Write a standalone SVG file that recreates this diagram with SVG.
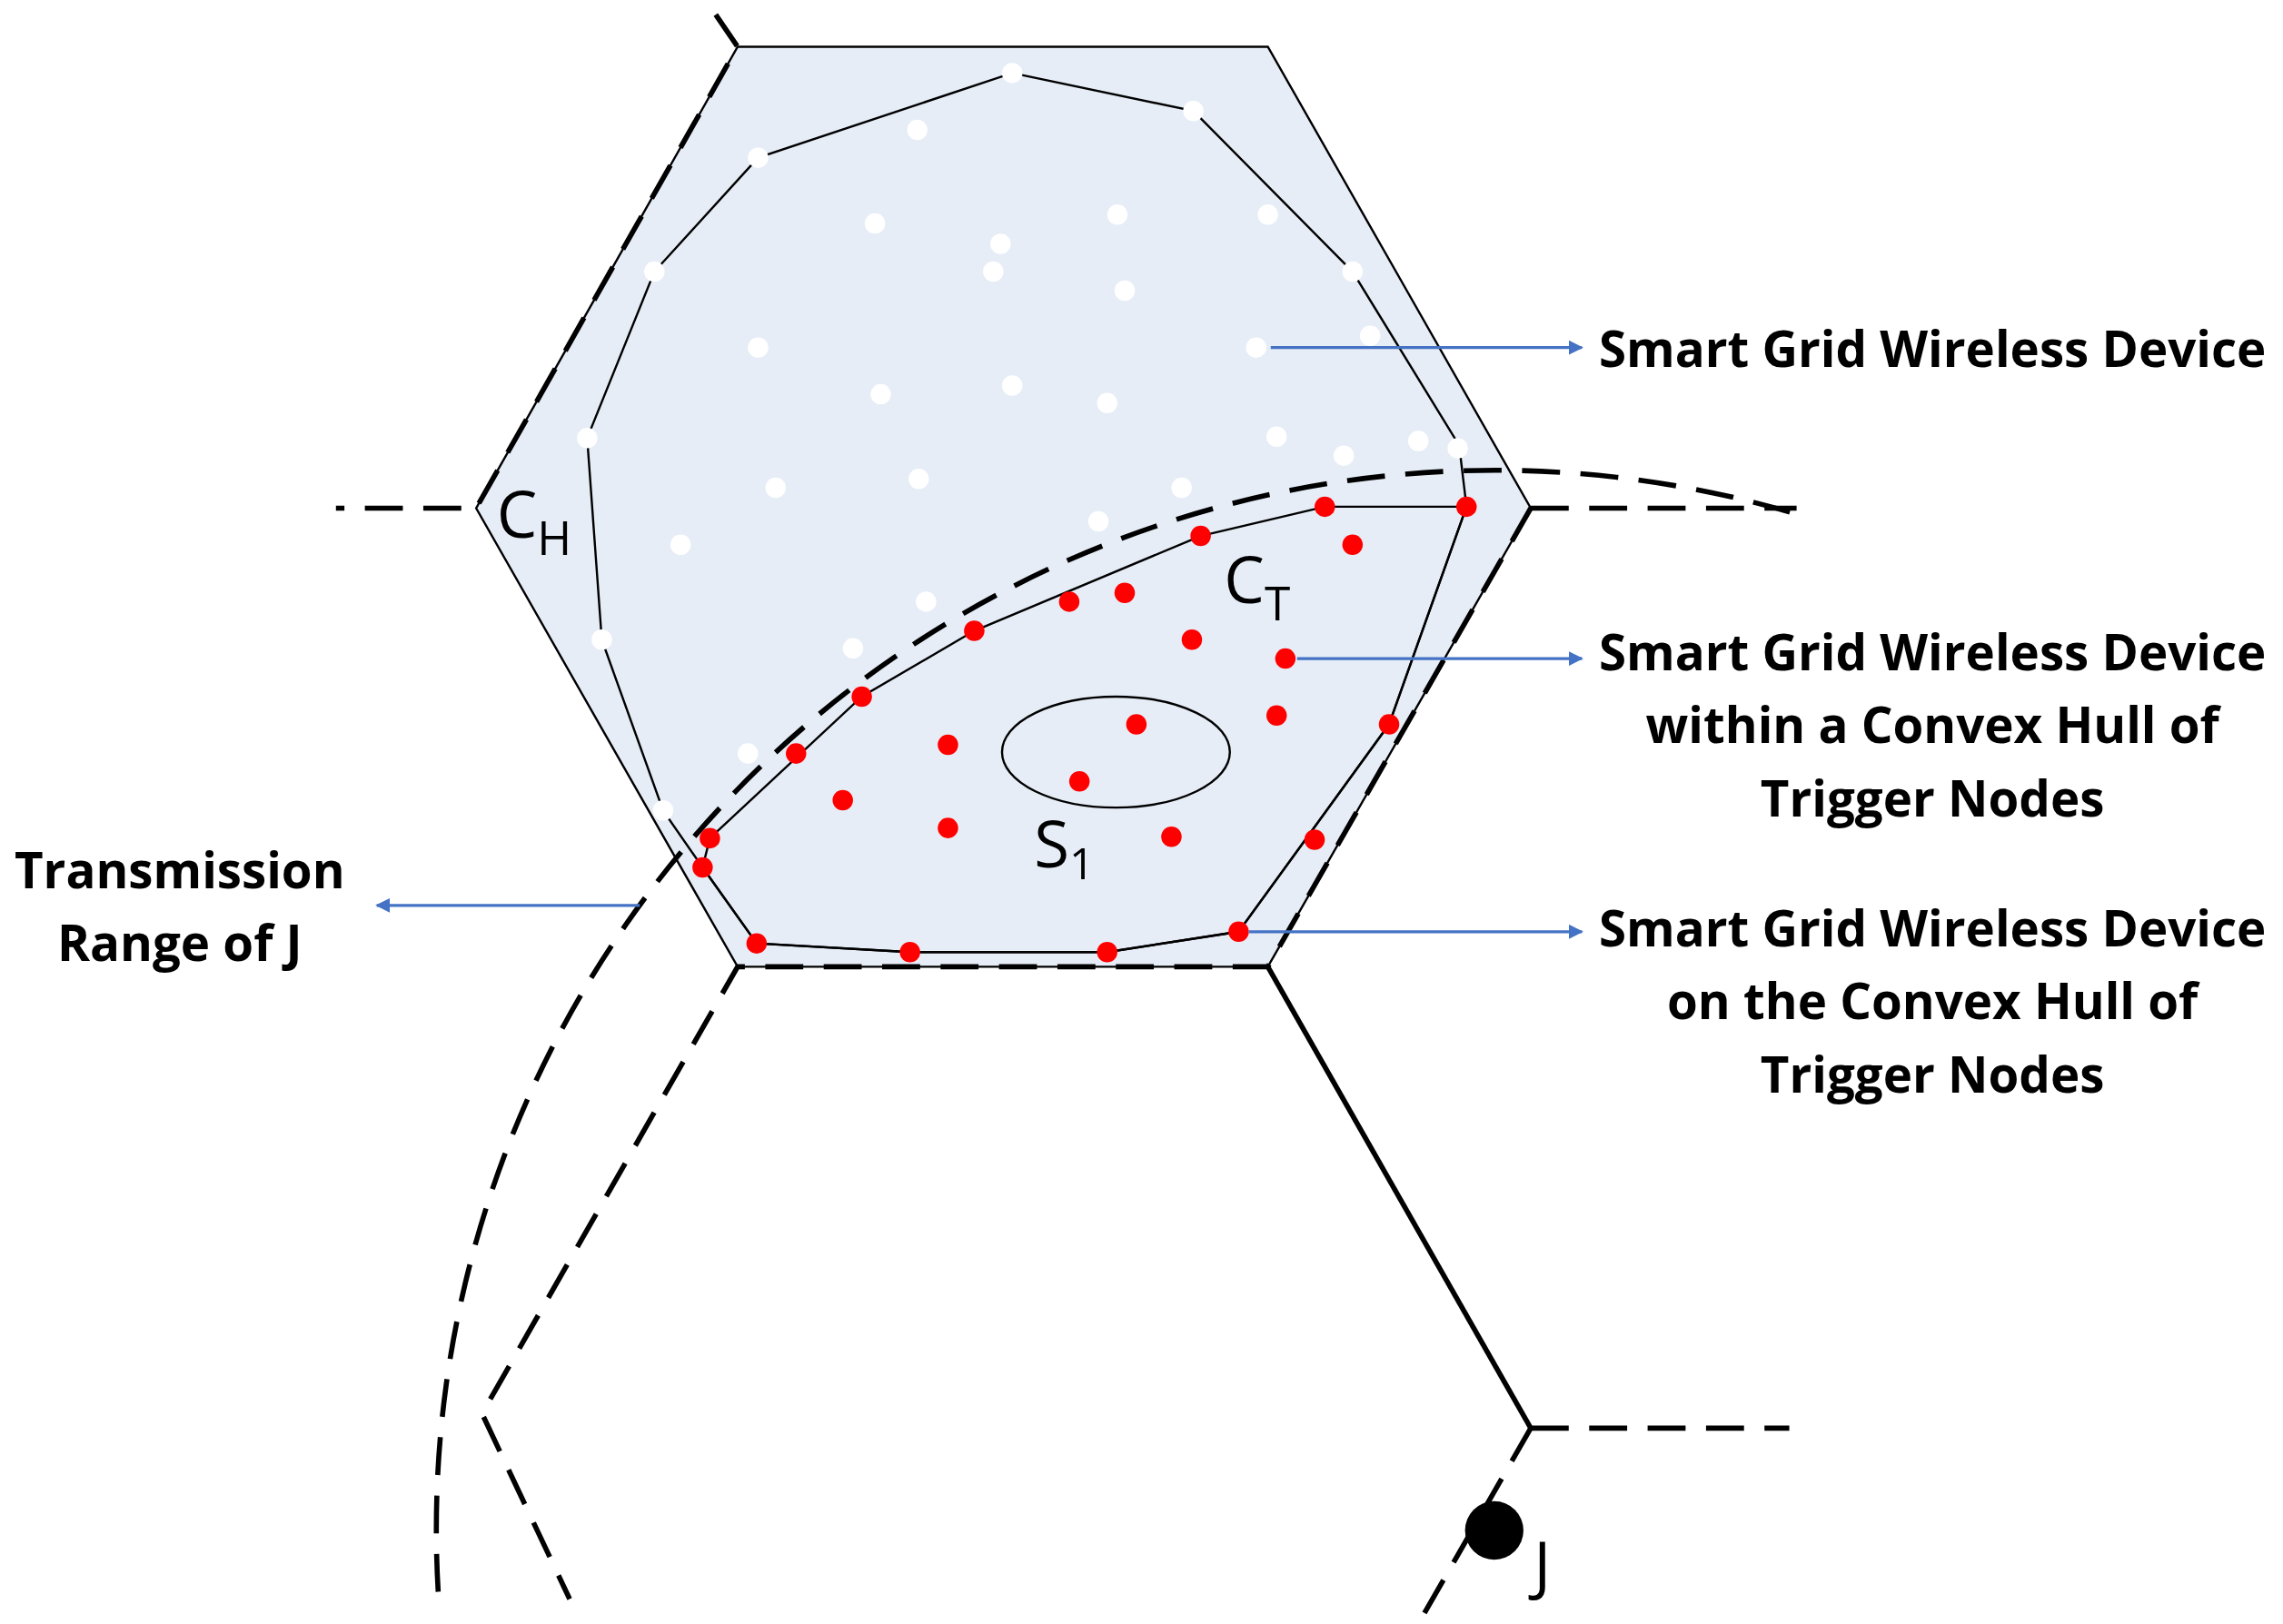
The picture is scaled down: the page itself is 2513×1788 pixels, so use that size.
<svg xmlns="http://www.w3.org/2000/svg" width="2513" height="1788" viewBox="0 0 2513 1788">
<defs>
<style>
.dash{fill:none;stroke:#000;stroke-width:3.5;stroke-dasharray:26 14}
.thin{fill:none;stroke:#000;stroke-width:1.5}
.w{fill:#fff}
.r{fill:#f00}
.lbl{font-family:"Open Sans","Liberation Sans",sans-serif;font-weight:bold;font-size:34px;text-anchor:middle;fill:#000}
.sym{font-family:"Open Sans","Liberation Sans",sans-serif;font-size:44px;fill:#000}
.arr{stroke:#4472c4;stroke-width:2;fill:none;marker-end:url(#ah)}
</style>
<marker id="ah" markerWidth="10" markerHeight="10" refX="9" refY="5" orient="auto" markerUnits="userSpaceOnUse"><path d="M0,0 L10,5 L0,10 z" fill="#4472c4"/></marker>
</defs>
<rect width="2513" height="1788" fill="#fff"/>
<g transform="scale(1.6078)">
<g id="cell">
<polygon points="505,32 868,32 1048,348 868,662 505,662 326,348" fill="#e6edf7" stroke="#000" stroke-width="1.5"/>
</g>
<g id="connectors">
<path class="dash" d="M490,10 L505,32 L326,348 L230,348"/>
<path class="dash" d="M1048,348 L1230,348"/>
<path class="dash" d="M1048,348 L868,662 L505,662 L330,968 L390,1095"/>
<path d="M868,662 L1048,978" stroke="#000" stroke-width="3.5" fill="none"/>
<path class="dash" d="M1048,978 L1225,978"/>
<path class="dash" d="M1048,978 L975,1105"/>
<path class="dash" d="M300,1090 A725,725 0 0 1 1230,352"/>
</g>
<g id="hullH"><polygon class="thin" points="693,50 817,76 926,186 999,305 1004,347 951,496 848,638 758,652 623,652 518,646 481,594 454,555 412,438 402,300 448,186 519,108"/></g>
<g id="hullT"><polygon class="thin" points="822,367 907,347 1004,347 951,496 848,638 758,652 623,652 518,646 481,594 486,574 590,477 667,432"/></g>
<g id="S1"><ellipse class="thin" cx="764" cy="515" rx="78" ry="38"/></g>
<g id="white">
<circle class="w" r="7" cx="693" cy="50"/><circle class="w" r="7" cx="817" cy="76"/><circle class="w" r="7" cx="628" cy="89"/><circle class="w" r="7" cx="519" cy="108"/><circle class="w" r="7" cx="599" cy="153"/><circle class="w" r="7" cx="685" cy="167"/><circle class="w" r="7" cx="765" cy="147"/><circle class="w" r="7" cx="868" cy="147"/><circle class="w" r="7" cx="680" cy="186"/><circle class="w" r="7" cx="770" cy="199"/><circle class="w" r="7" cx="448" cy="186"/><circle class="w" r="7" cx="926" cy="186"/><circle class="w" r="7" cx="519" cy="238"/><circle class="w" r="7" cx="860" cy="238"/><circle class="w" r="7" cx="938" cy="230"/><circle class="w" r="7" cx="603" cy="270"/><circle class="w" r="7" cx="693" cy="264"/><circle class="w" r="7" cx="758" cy="276"/><circle class="w" r="7" cx="402" cy="300"/><circle class="w" r="7" cx="874" cy="299"/><circle class="w" r="7" cx="920" cy="312"/><circle class="w" r="7" cx="971" cy="302"/><circle class="w" r="7" cx="998" cy="307"/><circle class="w" r="7" cx="531" cy="334"/><circle class="w" r="7" cx="629" cy="328"/><circle class="w" r="7" cx="809" cy="334"/><circle class="w" r="7" cx="466" cy="373"/><circle class="w" r="7" cx="752" cy="357"/><circle class="w" r="7" cx="634" cy="412"/><circle class="w" r="7" cx="412" cy="438"/><circle class="w" r="7" cx="584" cy="444"/><circle class="w" r="7" cx="512" cy="516"/><circle class="w" r="7" cx="454" cy="555"/>
</g>
<g id="red">
<circle class="r" r="7" cx="907" cy="347"/><circle class="r" r="7" cx="1004" cy="347"/><circle class="r" r="7" cx="822" cy="367"/><circle class="r" r="7" cx="926" cy="373"/><circle class="r" r="7" cx="732" cy="412"/><circle class="r" r="7" cx="770" cy="406"/><circle class="r" r="7" cx="667" cy="432"/><circle class="r" r="7" cx="816" cy="438"/><circle class="r" r="7" cx="880" cy="451"/><circle class="r" r="7" cx="590" cy="477"/><circle class="r" r="7" cx="874" cy="490"/><circle class="r" r="7" cx="951" cy="496"/><circle class="r" r="7" cx="778" cy="496"/><circle class="r" r="7" cx="649" cy="510"/><circle class="r" r="7" cx="545" cy="516"/><circle class="r" r="7" cx="739" cy="535"/><circle class="r" r="7" cx="577" cy="548"/><circle class="r" r="7" cx="649" cy="567"/><circle class="r" r="7" cx="802" cy="573"/><circle class="r" r="7" cx="900" cy="575"/><circle class="r" r="7" cx="486" cy="574"/><circle class="r" r="7" cx="481" cy="594"/><circle class="r" r="7" cx="518" cy="646"/><circle class="r" r="7" cx="623" cy="652"/><circle class="r" r="7" cx="758" cy="652"/><circle class="r" r="7" cx="848" cy="638"/>
</g>
<g id="J"><circle cx="1023" cy="1048" r="20" fill="#000"/><text class="sym" x="1050" y="1088" font-size="38">J</text></g>
<text class="sym" x="340" y="368">C<tspan font-size="32" dy="12">H</tspan></text>
<text class="sym" x="838" y="413">C<tspan font-size="32" dy="12">T</tspan></text>
<text class="sym" x="708" y="594">S<tspan font-size="30" dy="8">1</tspan></text>
<g id="labels">
<path class="arr" d="M870,238 L1083,238"/>
<path class="arr" d="M888,451 L1083,451"/>
<path class="arr" d="M855,638 L1083,638"/>
<path class="arr" d="M438,620 L258,620"/>
<text class="lbl" x="1323" y="251">Smart Grid Wireless Device</text>
<text class="lbl" x="1323" y="459">Smart Grid Wireless Device</text>
<text class="lbl" x="1323" y="509">within a Convex Hull of</text>
<text class="lbl" x="1323" y="559">Trigger Nodes</text>
<text class="lbl" x="1323" y="648">Smart Grid Wireless Device</text>
<text class="lbl" x="1323" y="698">on the Convex Hull of</text>
<text class="lbl" x="1323" y="748">Trigger Nodes</text>
<text class="lbl" x="123" y="608">Transmission</text>
<text class="lbl" x="123" y="658">Range of J</text>
</g>
</g>
</svg>
